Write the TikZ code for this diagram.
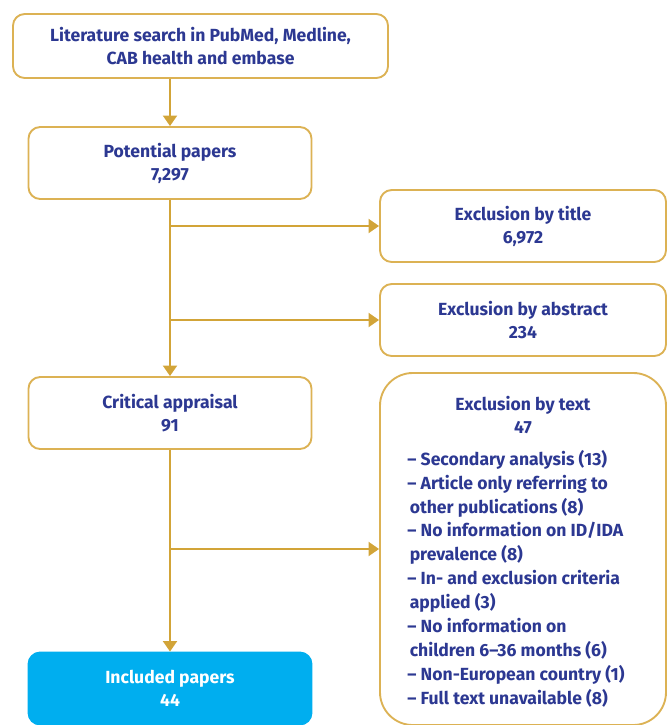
\documentclass[tikz,border=0pt]{standalone}
\usepackage{fontspec}
\setmainfont{Fira Sans}
\usetikzlibrary{arrows.meta,positioning,calc}
\definecolor{framegold}{RGB}{220,178,84}
\definecolor{arrowgold}{RGB}{210,164,56}
\definecolor{textnavy}{RGB}{44,56,146}
\definecolor{inclcyan}{RGB}{0,174,239}

\tikzset{
  stagebox/.style={
    draw=framegold, line width=1.6pt, rounded corners=10pt, fill=white,
    text=textnavy, font=\fontsize{15}{19.6}\selectfont\bfseries,
    align=center, minimum width=8.49cm, minimum height=2.16cm, inner sep=2pt
  },
  exclbox/.style={stagebox, minimum width=8.58cm},
  flow/.style={draw=arrowgold, line width=1.6pt,
    -{Triangle[width=12pt,length=9pt]}}
}

\begin{document}
\begin{tikzpicture}[x=0.03cm,y=-0.03cm]
\useasboundingbox (0,0) rectangle (667,725);

% ---- Main column ----
\node[stagebox, minimum width=11.25cm, minimum height=1.92cm] (search) at (200.5,46)
  {Literature search in PubMed, Medline,\\CAB health and embase};
\node[stagebox] (potential) at (170,163) {Potential papers\\7,297};
\node[stagebox] (critical) at (170,413) {Critical appraisal\\91};
\node[stagebox, draw=inclcyan, fill=inclcyan, text=white] (included) at (170,688.5)
  {Included papers\\44};

% ---- Exclusion column ----
\node[exclbox] (title) at (523,226) {Exclusion by title\\6,972};
\node[exclbox] (abstract) at (523,320) {Exclusion by abstract\\234};
\node[exclbox, rounded corners=28pt, minimum height=10.56cm] (fulltext) at (523,549)
  {\rule{0pt}{20pt}Exclusion by text\\47\\[12pt]
   \renewcommand{\arraystretch}{1.04}%
   \begin{tabular}{@{}l@{}}
   -- Secondary analysis (13)\\
   -- Article only referring to\\
   \hspace{2pt}other publications (8)\\
   -- No information on ID/IDA\\
   \hspace{2pt}prevalence (8)\\
   -- In- and exclusion criteria\\
   \hspace{2pt}applied (3)\\
   -- No information on\\
   \hspace{2pt}children 6--36 months (6)\\
   -- Non-European country (1)\\
   -- Full text unavailable (8)
   \end{tabular}\hspace*{12pt}};

% ---- Flow arrows ----
\draw[flow] (potential.north |- search.south) -- (potential);
\draw[flow] (potential) -- (critical);
\draw[flow] (critical) -- (included);
\draw[flow] (potential.south |- title.west) -- (title.west);
\draw[flow] (potential.south |- abstract.west) -- (abstract.west);
\draw[flow] (critical.south |- fulltext.west) -- (fulltext.west);

\end{tikzpicture}
\end{document}
